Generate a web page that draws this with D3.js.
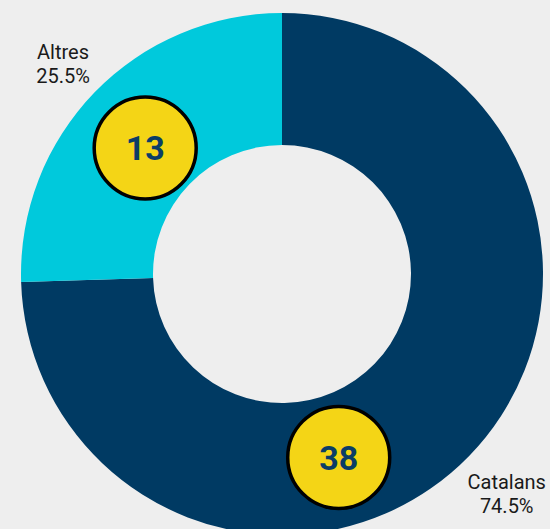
<!DOCTYPE html>
<html lang="ca">
<head>
<meta charset="UTF-8">
<title>Catalans vs Altres</title>
<script src="https://cdn.jsdelivr.net/npm/d3@7"></script>
<style>
  html, body { margin: 0; padding: 0; background: #eeeeee; }
  svg { display: block; font-family: Roboto, "Noto Sans", sans-serif; }
</style>
</head>
<body>
<svg id="chart" width="550" height="529"></svg>
<script>
// data
const categories = ["Catalans", "Altres"];
const counts = [38, 13];
const percents = ["74.5%", "25.5%"];
const colors = ["#003a63", "#00c9dc"];
// where the yellow badge sits inside each slice (0 = slice start, 1 = slice end)
const badgeAt = [0.607, 0.484];
const badgeDist = [192, 186];
const labelDist = [313, 305];

const width = 550, height = 529;
const cx = 282, cy = 274;
const outerR = 261, innerR = 129;

const svg = d3.select("#chart");
const g = svg.append("g").attr("transform", `translate(${cx},${cy})`);

const rows = categories.map((c, i) => ({
  name: c, value: counts[i], pct: percents[i], color: colors[i],
  badge: badgeAt[i], badgeR: badgeDist[i], labelR: labelDist[i]
}));

const pie = d3.pie().value(d => d.value).sort(null);
const arcs = pie(rows);

const arc = d3.arc().innerRadius(innerR).outerRadius(outerR);

g.selectAll("path.slice")
  .data(arcs)
  .join("path")
  .attr("class", "slice")
  .attr("d", arc)
  .attr("fill", d => d.data.color);

// badges
const badge = g.selectAll("g.badge")
  .data(arcs)
  .join("g")
  .attr("class", "badge")
  .attr("transform", d => {
    const a = d.startAngle + (d.endAngle - d.startAngle) * d.data.badge;
    const r = d.data.badgeR;
    return `translate(${r * Math.sin(a)},${-r * Math.cos(a)})`;
  });

badge.append("circle")
  .attr("r", 51)
  .attr("fill", "#f4d516")
  .attr("stroke", "#000")
  .attr("stroke-width", 3.5);

badge.append("text")
  .attr("text-anchor", "middle")
  .attr("dy", "0.36em")
  .attr("font-size", 34)
  .attr("font-weight", 700)
  .attr("fill", "#0b3d66")
  .text(d => d.data.value);

// outside labels
const label = g.selectAll("text.label")
  .data(arcs)
  .join("text")
  .attr("class", "label")
  .attr("text-anchor", "middle")
  .attr("font-size", 20)
  .attr("fill", "#1a1a1a")
  .attr("transform", d => {
    const c = d3.arc().innerRadius(d.data.labelR).outerRadius(d.data.labelR).centroid(d);
    return `translate(${c})`;
  });

label.append("tspan").attr("x", 0).attr("y", -3).text(d => d.data.name);
label.append("tspan").attr("x", 0).attr("y", 21).text(d => d.data.pct);
</script>
</body>
</html>
